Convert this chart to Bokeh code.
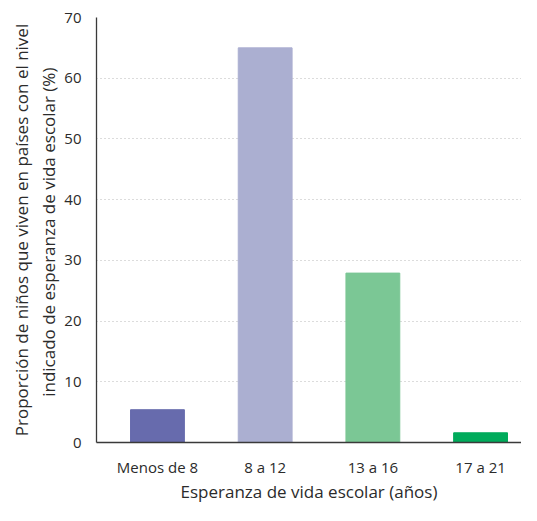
from bokeh.plotting import figure
from bokeh.models import Range1d, FixedTicker, ColumnDataSource
from bokeh.embed import file_html
from bokeh.resources import INLINE

categories = ["Menos de 8", "8 a 12", "13 a 16", "17 a 21"]
values = [5.4, 65.0, 27.9, 1.6]
colors = ["#676bad", "#abafd1", "#7bc795", "#00ab5b"]

xpos = list(range(len(categories)))
src = ColumnDataSource(dict(x=xpos, val=values, col=colors))

p = figure(width=521, height=505, x_range=Range1d(-0.566, 3.38),
           y_range=Range1d(0, 70), output_backend="svg", toolbar_location=None,
           min_border_left=96, min_border_top=17, min_border_bottom=20, min_border_right=0)
p.vbar(x="x", top="val", width=0.5, color="col", source=src)

p.outline_line_color = None
p.xgrid.grid_line_color = None
p.ygrid.grid_line_color = "#b8b8b8"
p.ygrid.grid_line_dash = "1 3"
p.ygrid.grid_line_width = 1

font = "Open Sans"
p.yaxis.ticker = FixedTicker(ticks=[0, 10, 20, 30, 40, 50, 60, 70])
p.xaxis.ticker = FixedTicker(ticks=xpos)
p.xaxis.major_label_overrides = {i: c for i, c in zip(xpos, categories)}
for ax in (p.xaxis, p.yaxis):
    ax.major_tick_line_color = None
    ax.minor_tick_line_color = None
    ax.axis_line_color = "#3a3a3a"
    ax.axis_line_width = 1.3
    ax.major_label_text_font = font
    ax.major_label_text_font_size = "15px"
    ax.major_label_text_color = "#2b2b2b"
    ax.axis_label_text_font = font
    ax.axis_label_text_font_size = "17px"
    ax.axis_label_text_font_style = "normal"
    ax.axis_label_text_color = "#2b2b2b"

p.yaxis.major_label_standoff = 9
p.yaxis.axis_label = "Proporción de niños que viven en países con el nivel\nindicado de esperanza  de vida escolar (%)"
p.yaxis.axis_label_standoff = 1
p.xaxis.major_label_standoff = 8
p.xaxis.axis_label = "Esperanza de vida escolar (años)"
p.xaxis.axis_label_standoff = 0

open("out.html", "w").write(file_html(p, INLINE))
